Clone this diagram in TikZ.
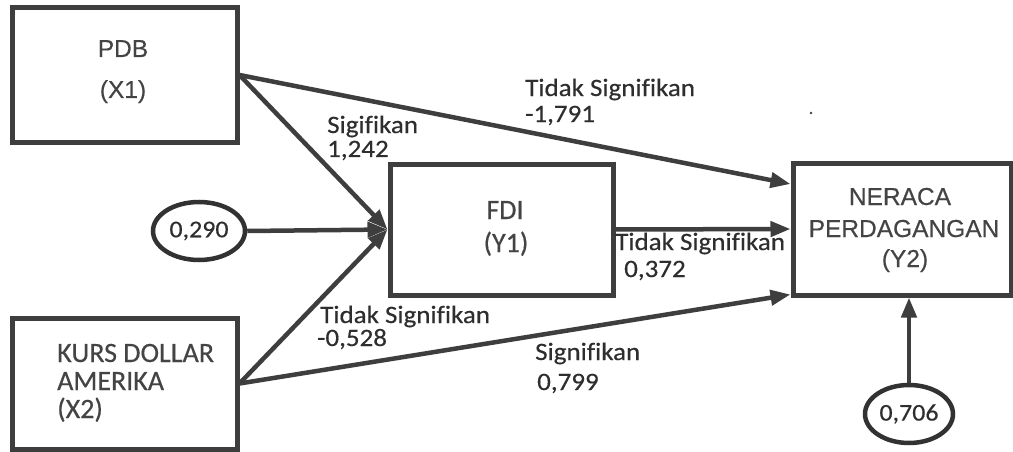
\documentclass[tikz,border=0pt]{standalone}
\usepackage{fontspec}
\setmainfont[Ligatures=NoCommon, FakeBold=0.4]{Carlito}
\newfontfamily\arialfont[FakeBold=0.4]{Liberation Sans}
\newfontfamily\lblfont[FakeStretch=1.08, Ligatures=NoCommon, FakeBold=0.4]{Carlito}
\usetikzlibrary{arrows.meta,shapes.geometric,calc}

\definecolor{linec}{HTML}{3E3E3E}
\definecolor{boxtext}{HTML}{444444}
\definecolor{lbltext}{HTML}{2E2E2E}

\tikzset{
  varbox/.style={draw=linec, line width=5pt, fill=white, inner sep=0pt},
  oval/.style={ellipse, draw=linec!80!black, line width=4.5pt, fill=white, inner sep=0pt,
               text=lbltext, font=\lblfont\fontsize{24}{28}\selectfont},
  path arrow/.style={draw=linec, line width=4.5pt,
               -{Triangle[length=20pt,width=15pt]}},
  arialtext/.style={text=boxtext, inner sep=0pt, anchor=base,
               font=\arialfont\fontsize{24.5}{28}\selectfont},
  calibtext/.style={text=boxtext, inner sep=0pt,
               font=\fontsize{28}{32}\selectfont},
  coef/.style={text=lbltext, inner sep=0pt, anchor=base west,
               font=\lblfont\fontsize{25}{30}\selectfont}
}

\begin{document}
\begin{tikzpicture}[x=1pt,y=-1pt]
  \useasboundingbox (0,0) rectangle (1013,452);
  \fill[white] (0,0) rectangle (1013,452);

  % variable boxes
  \node[varbox, minimum width=225pt, minimum height=134pt] (pdb) at (124.5,75) {};
  \node[varbox, minimum width=225pt, minimum height=131pt] (kurs) at (124.5,383.5) {};
  \node[varbox, minimum width=223pt, minimum height=131pt] (fdi) at (501.5,229.5) {};
  \node[varbox, minimum width=218pt, minimum height=132pt] (ner) at (902,229) {};

  % error terms
  \node[oval, minimum width=92pt, minimum height=58pt] (e1) at (199,231) {0,290};
  \node[oval, minimum width=88pt, minimum height=58pt] (e2) at (909,414) {0,706};

  % box captions
  \node[arialtext] (pdbA) at (123,57) {PDB};
  \node[arialtext] (pdbB) at (123,98) {(X1)};
  \node[calibtext, anchor=base] (fdiA) at (505,219) {FDI};
  \node[calibtext, anchor=base] (fdiB) at (506,252) {(Y1)};
  \node[arialtext] (nerA) at (900,205) {NERACA};
  \node[arialtext] (nerB) at (904,237) {PERDAGANGAN};
  \node[arialtext] (nerC) at (905,267) {(Y2)};
  \node[calibtext, anchor=base west] (kursA) at (57,362) {KURS DOLLAR};
  \node[calibtext, anchor=base west] (kursB) at (57,390) {AMERIKA};
  \node[calibtext, anchor=base west] (kursC) at (57,418) {(X2)};

  % paths
  \draw[path arrow] (pdb.east) -- ([yshift=45pt]ner.west);
  \draw[path arrow] (pdb.east) -- (fdi.west);
  \draw[path arrow] (e1.east) -- (fdi.west);
  \draw[path arrow] (kurs.east) -- (fdi.west);
  \draw[path arrow] (kurs.east) -- ([yshift=3pt]ner.south west);
  \draw[path arrow] (fdi.east) -- (ner.west);
  \draw[path arrow] (e2.north) -- (e2.north |- ner.south);

  % path coefficients
  \node[coef] (l1a) at (525,96) {Tidak Signifikan};
  \node[coef] (l1b) at (525,122) {-1,791};
  \node[coef] (l2a) at (327,133) {Sigifikan};
  \node[coef] (l2b) at (327,157) {1,242};
  \node[coef] (l3a) at (615,250) {Tidak Signifikan};
  \node[coef] (l3b) at (624,277) {0,372};
  \node[coef] (l4a) at (320,323) {Tidak Signifikan};
  \node[coef] (l4b) at (317,346) {-0,528};
  \node[coef] (l5a) at (535,360) {Signifikan};
  \node[coef] (l5b) at (537,390) {0,799};

  % stray mark
  \fill[linec] (811,113) circle (1.3pt);
\end{tikzpicture}
\end{document}
